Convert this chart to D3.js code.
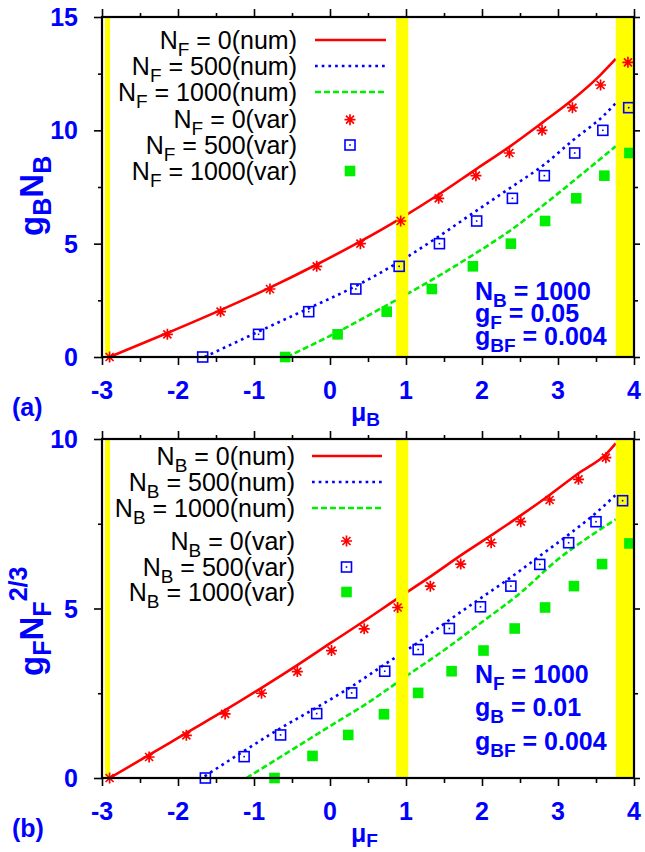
<!DOCTYPE html>
<html><head><meta charset="utf-8">
<script src="https://cdn.jsdelivr.net/npm/d3@7"></script>
<style>body{margin:0;background:#fff}svg{display:block}</style>
</head><body><script>
// ---------- data ----------
const xMajor = [-3,-2,-1,0,1,2,3,4];
const xMinor = [-2.5,-1.5,-0.5,0.5,1.5,2.5,3.5];
const xTickLabels = ["-3","-2","-1","0","1","2","3","4"];
const yMajorA = [0,5,10,15], yMinorA = [2.5,7.5,12.5];
const yMajorB = [0,5,10],    yMinorB = [2.5,7.5];
const bandStart = [-2.96, 0.87, 3.76];
const bandEnd   = [-2.895, 1.03, 4.0];

// panel (a): g_B N_B vs mu_B
const a_num0_x   = [-2.90,-2.14,-1.44,-0.79,-0.175,0.40,0.93,1.43,1.92,2.36,2.79,3.19,3.56,3.76];
const a_num0_y   = [0,1.06,2.07,3.06,4.08,5.10,6.12,7.17,8.28,9.27,10.33,11.35,12.45,13.15];
const a_num500_x = [-1.65,-0.94,-0.28,0.34,0.91,1.40,1.86,2.39,2.81,3.20,3.60,3.76];
const a_num500_y = [0,1.12,2.15,3.13,4.2,5.25,6.3,7.5,8.47,9.57,10.65,11.2];
const a_num1000_x= [-0.57,0.10,0.75,1.34,1.88,2.38,2.94,3.38,3.76];
const a_num1000_y= [0,1.1,2.29,3.4,4.5,5.6,7.05,8.25,9.3];
const a_var0_x   = [-2.90,-2.14,-1.44,-0.79,-0.175,0.40,0.93,1.43,1.92,2.36,2.79,3.19,3.56,3.92];
const a_var0_y   = [0,1,2,3,4,5,6,7,8,9,10,11,12,13];
const a_var500_x = [-1.675,-0.94,-0.28,0.34,0.91,1.44,1.93,2.40,2.82,3.22,3.59,3.93];
const a_var500_y = [0,1,2,3,4,5,6,7,8,9,10,11];
const a_var1000_x= [-0.59,0.10,0.746,1.34,1.88,2.38,2.83,3.24,3.61,3.94];
const a_var1000_y= [0,1,2,3,4,5,6,7,8,9];

// panel (b): g_F N_F^{2/3} vs mu_F
const b_num0_x   = [-2.90,-2.38,-1.89,-1.38,-0.90,-0.43,0.02,0.45,0.89,1.32,1.73,2.13,2.52,2.89,3.27,3.64,3.76];
const b_num0_y   = [0,0.68,1.33,2.0,2.66,3.33,4.0,4.63,5.3,5.94,6.58,7.17,7.76,8.35,8.99,9.57,9.87];
const b_num500_x = [-1.65,-1.13,-0.65,-0.175,0.285,0.72,1.16,1.57,1.98,2.38,2.76,3.14,3.50,3.76];
const b_num500_y = [0.05,0.8,1.47,2.08,2.7,3.35,4.0,4.66,5.3,5.92,6.55,7.18,7.82,8.35];
const b_num1000_x= [-1.10,-0.5,0.0,0.5,1.0,1.5,2.0,2.5,3.0,3.5,3.76];
const b_num1000_y= [0,0.83,1.53,2.22,3.0,3.77,4.6,5.45,6.45,7.25,7.63];
const b_var0_x   = [-2.90,-2.38,-1.89,-1.38,-0.90,-0.43,0.02,0.45,0.89,1.32,1.72,2.12,2.51,2.89,3.27,3.63];
const b_var0_y   = [0,0.62,1.26,1.89,2.50,3.14,3.76,4.40,5.03,5.66,6.31,6.94,7.56,8.2,8.81,9.45];
const b_var500_x = [-1.64,-1.13,-0.65,-0.175,0.285,0.72,1.16,1.57,1.98,2.38,2.76,3.14,3.50,3.85];
const b_var500_y = [0,0.63,1.27,1.9,2.51,3.15,3.79,4.41,5.05,5.66,6.3,6.94,7.56,8.18];
const b_var1000_x= [-0.73,-0.23,0.24,0.71,1.16,1.60,2.02,2.43,2.83,3.21,3.58,3.94];
const b_var1000_y= [0,0.65,1.27,1.88,2.51,3.15,3.76,4.41,5.03,5.66,6.31,6.92];

const legendCounts = ["0","500","1000"];

// ---------- drawing ----------
const FONT = "'Liberation Sans', Arial, Helvetica, sans-serif";
const BLUE = "#0000ff", RED = "#ff0000", GREEN = "#00ee00", YEL = "#ffff00";
const svg = d3.select("body").append("svg").attr("width",645).attr("height",852)
  .style("font-family",FONT);

function rich(parent, x, y, parts, size, o={}) {
  const t = parent.append("text").attr("x",x).attr("y",y).attr("font-size",size)
    .attr("fill",o.fill||"#000").attr("font-weight",o.weight||"normal")
    .attr("text-anchor",o.anchor||"start");
  if (o.rotate) t.attr("transform",`rotate(-90,${x},${y})`);
  const subShift = o.subShift!=null ? o.subShift : size*0.28;
  let cur = 0;
  parts.forEach(([s,k]) => {
    const target = k==="sub" ? subShift : k==="sup" ? -size*0.5 : 0;
    const ts = t.append("tspan").attr("font-size", k==="n"?size:size*0.76).text(s);
    if (target-cur !== 0) ts.attr("dy", target-cur);
    cur = target;
  });
  return t;
}

function marker(g, type, cx, cy) {
  if (type==="star") {
    const s=5.5, d=4;
    g.append("path").attr("d",`M${cx-s},${cy}H${cx+s}M${cx},${cy-s}V${cy+s}M${cx-d},${cy-d}L${cx+d},${cy+d}M${cx-d},${cy+d}L${cx+d},${cy-d}`)
      .attr("stroke",RED).attr("stroke-width",1.7).attr("fill","none");
  } else if (type==="open") {
    g.append("rect").attr("x",cx-5).attr("y",cy-5).attr("width",10).attr("height",10)
      .attr("fill","none").attr("stroke",BLUE).attr("stroke-width",1.6);
    g.append("rect").attr("x",cx-0.8).attr("y",cy-0.8).attr("width",1.6).attr("height",1.6).attr("fill",BLUE);
  } else {
    g.append("rect").attr("x",cx-5.3).attr("y",cy-5.3).attr("width",10.6).attr("height",10.6).attr("fill",GREEN);
  }
}

const lineStyles = [
  {color:RED, dash:null},
  {color:BLUE, dash:"2.7,4"},
  {color:GREEN, dash:"6,3"}
];
const markerTypes = ["star","open","filled"];

function drawPanel(P, idx) {
  const x = d3.scaleLinear().domain([-3,4]).range([102,634]);
  const y = d3.scaleLinear().domain(P.yDomain).range([P.bottom,P.top]);
  const g = svg.append("g");
  const clipId = "clip"+idx;
  g.append("clipPath").attr("id",clipId).append("rect")
    .attr("x",102).attr("y",P.top).attr("width",532).attr("height",P.bottom-P.top);

  // curves
  P.lines.forEach((L,i) => {
    const pts = L[0].map((v,j)=>[v,L[1][j]]);
    g.append("path").attr("clip-path",`url(#${clipId})`)
      .attr("d", d3.line().x(d=>x(d[0])).y(d=>y(d[1])).curve(d3.curveMonotoneX)(pts))
      .attr("fill","none").attr("stroke",lineStyles[i].color).attr("stroke-width",2.6)
      .attr("stroke-dasharray",lineStyles[i].dash);
  });
  // yellow bands
  bandStart.forEach((b,i) => {
    g.append("rect").attr("x",x(b)).attr("width",x(bandEnd[i])-x(b))
      .attr("y",P.top+1).attr("height",P.bottom-P.top-2).attr("fill",YEL);
  });
  // points
  P.points.forEach((S,i) => {
    S[0].forEach((v,j) => marker(g, markerTypes[i], x(v), y(S[1][j])));
  });

  // axes
  const styleAx = sel => { sel.select(".domain").remove(); sel.selectAll("line").attr("stroke","#000").attr("stroke-width",1.6); };
  g.append("g").attr("transform",`translate(0,${P.bottom})`)
    .call(d3.axisBottom(x).tickValues(xMajor).tickSize(8).tickFormat("")).call(styleAx);
  g.append("g").attr("transform",`translate(0,${P.bottom})`)
    .call(d3.axisBottom(x).tickValues(xMinor).tickSize(5).tickFormat("")).call(styleAx);
  g.append("g").attr("transform",`translate(0,${P.top})`)
    .call(d3.axisTop(x).tickValues(xMajor).tickSize(8).tickFormat("")).call(styleAx);
  g.append("g").attr("transform",`translate(0,${P.top})`)
    .call(d3.axisTop(x).tickValues(xMinor).tickSize(4).tickFormat("")).call(styleAx);
  g.append("g").attr("transform",`translate(102,0)`)
    .call(d3.axisLeft(y).tickValues(P.yMajor).tickSize(8).tickFormat("")).call(styleAx);
  g.append("g").attr("transform",`translate(102,0)`)
    .call(d3.axisLeft(y).tickValues(P.yMinor).tickSize(4).tickFormat("")).call(styleAx);
  g.append("g").attr("transform",`translate(634,0)`)
    .call(d3.axisRight(y).tickValues(P.yMajor).tickSize(6).tickFormat("")).call(styleAx);
  g.append("g").attr("transform",`translate(634,0)`)
    .call(d3.axisRight(y).tickValues(P.yMinor).tickSize(4).tickFormat("")).call(styleAx);
  g.append("rect").attr("x",102).attr("y",P.top).attr("width",532).attr("height",P.bottom-P.top)
    .attr("fill","none").attr("stroke","#000").attr("stroke-width",2.2);

  // tick labels
  xMajor.forEach((v,i) => g.append("text").attr("x",x(v)).attr("y",P.bottom+42)
    .attr("text-anchor","middle").attr("font-size",25).attr("font-weight","bold").attr("fill",BLUE)
    .text(xTickLabels[i]));
  P.yMajor.forEach(v => g.append("text").attr("x",78).attr("y",y(v)+9)
    .attr("text-anchor","end").attr("font-size",25).attr("font-weight","bold").attr("fill",BLUE)
    .text(String(v)));

  // axis titles
  rich(g, 351, P.bottom+64, [["μ","n"],[P.xSub,"sub"]], 25, {fill:BLUE, weight:"bold", subShift:5});
  rich(g, 43, P.yTitleStart, P.yTitle, 33, {fill:BLUE, weight:"bold", rotate:true, subShift:8});
  g.append("text").attr("x",12).attr("y",P.bottom+59).attr("font-size",25).attr("font-weight","bold")
    .attr("fill",BLUE).text(P.tag);

  // legend
  P.legendRows.forEach((ry,i) => {
    const k = i%3, isVar = i>=3;
    rich(g, P.legTextX, ry+8.5, [["N","n"],[P.legSub,"sub"],[" = "+legendCounts[k]+(isVar?"(var)":"(num)"),"n"]], 25, {anchor:"end"});
    if (!isVar) {
      g.append("line").attr("x1",P.legX0).attr("x2",P.legX1).attr("y1",ry).attr("y2",ry)
        .attr("stroke",lineStyles[k].color).attr("stroke-width",2.6).attr("stroke-dasharray",lineStyles[k].dash);
    } else {
      marker(g, markerTypes[k], (P.legX0+P.legX1)/2-0.5, ry);
    }
  });

  // annotation
  P.annot.forEach((parts,i) => rich(g, 475, P.annotY[i], parts, 25, {fill:BLUE, weight:"bold"}));
}

drawPanel({
  top:17, bottom:357, yDomain:[0,15], yMajor:yMajorA, yMinor:yMinorA,
  lines:[[a_num0_x,a_num0_y],[a_num500_x,a_num500_y],[a_num1000_x,a_num1000_y]],
  points:[[a_var0_x,a_var0_y],[a_var500_x,a_var500_y],[a_var1000_x,a_var1000_y]],
  xSub:"B", tag:"(a)",
  yTitle:[["g","n"],["B","sub"],["N","n"],["B","sub"]], yTitleStart:236,
  legendRows:[40,66,92,119.7,145,171], legTextX:297, legX0:315, legX1:386, legSub:"F",
  annot:[[["N","n"],["B","sub"],[" = 1000","n"]],[["g","n"],["F","sub"],[" = 0.05","n"]],[["g","n"],["BF","sub"],[" = 0.004","n"]]],
  annotY:[300,322,345]
}, 0);

drawPanel({
  top:439, bottom:778, yDomain:[0,10], yMajor:yMajorB, yMinor:yMinorB,
  lines:[[b_num0_x,b_num0_y],[b_num500_x,b_num500_y],[b_num1000_x,b_num1000_y]],
  points:[[b_var0_x,b_var0_y],[b_var500_x,b_var500_y],[b_var1000_x,b_var1000_y]],
  xSub:"F", tag:"(b)",
  yTitle:[["g","n"],["F","sub"],["N","n"],["F","sub"],["2/3","sup"]], yTitleStart:676,
  legendRows:[456,482,508,541,567,592], legTextX:295, legX0:312, legX1:382, legSub:"B",
  annot:[[["N","n"],["F","sub"],[" = 1000","n"]],[["g","n"],["B","sub"],[" = 0.01","n"]],[["g","n"],["BF","sub"],[" = 0.004","n"]]],
  annotY:[683,716,750]
}, 1);
</script></body></html>
